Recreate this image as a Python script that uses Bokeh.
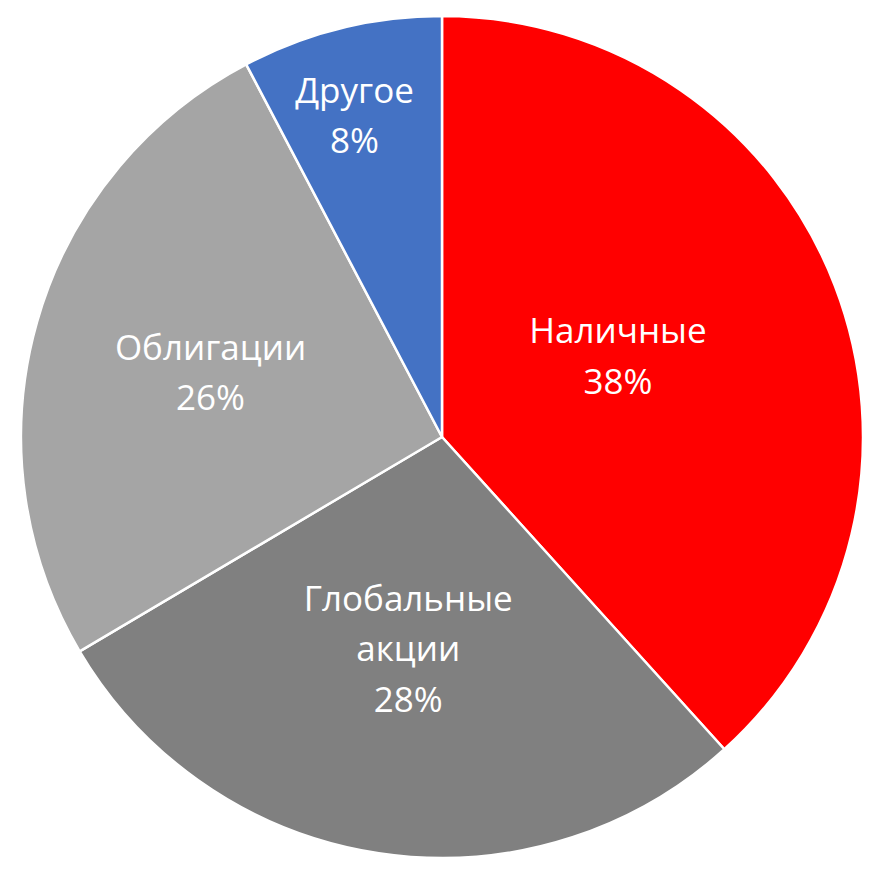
import math
from bokeh.plotting import figure
from bokeh.models import ColumnDataSource, Range1d
from bokeh.core.properties import value
from bokeh.embed import file_html
from bokeh.resources import INLINE

# Data (shares; labels show rounded percentages)
categories = ["Наличные", "Глобальные акции", "Облигации", "Другое"]
shares = [38.3, 28.2, 25.8, 7.7]
colors = ["#FF0000", "#808080", "#A5A5A5", "#4472C4"]
label_lines = [["Наличные"], ["Глобальные", "акции"], ["Облигации"], ["Другое"]]

# Label placement (layout): radial fraction and small angle tweak in degrees
label_radius_frac = [0.461, 0.507, 0.5715, 0.794]
label_angle_tweak = [3.94, -0.46, 0.0, 1.31]

# Layout (data units == pixels)
W, H = 874, 870
cx, cy, R = 441.5, 433.5, 421
line_gap = 50.5
font_px = 35

p = figure(width=W, height=H, output_backend="svg", toolbar_location=None,
           x_range=Range1d(0, W), y_range=Range1d(0, H), min_border=0)
p.axis.visible = False
p.grid.visible = False
p.outline_line_color = None
p.background_fill_color = "white"
p.border_fill_color = "white"

total = sum(shares)
starts, ends, mids = [], [], []
cum = 0.0
for s in shares:
    a0 = cum / total
    cum += s
    a1 = cum / total
    starts.append(math.pi / 2 - 2 * math.pi * a0)
    ends.append(math.pi / 2 - 2 * math.pi * a1)
    mids.append(math.pi / 2 - 2 * math.pi * (a0 + a1) / 2)

src = ColumnDataSource(dict(start=starts, end=ends, color=colors, cat=categories))
p.wedge(x=cx, y=cy, radius=R, start_angle="start", end_angle="end",
        direction="clock", fill_color="color", line_color="white",
        line_width=2.5, source=src)

tx, ty, tt, toff = [], [], [], []
for i, lines in enumerate(label_lines):
    r = R * label_radius_frac[i]
    ang = mids[i] + math.radians(label_angle_tweak[i])
    lx = cx + r * math.cos(ang)
    ly = cy + r * math.sin(ang)
    pct = round(shares[i] / total * 100)
    all_lines = lines + [f"{pct}%"]
    n = len(all_lines)
    for k, t in enumerate(all_lines):
        tx.append(lx)
        ty.append(ly)
        tt.append(t)
        toff.append((k - (n - 1) / 2) * line_gap)

tsrc = ColumnDataSource(dict(x=tx, y=ty, text=tt, yoff=toff))
p.text(x="x", y="y", text="text", y_offset="yoff", source=tsrc,
       text_color="white", text_font=value("Open Sans"),
       text_font_size=f"{font_px}px", text_align="center",
       text_baseline="middle")

open("out.html", "w").write(file_html(p, INLINE))
